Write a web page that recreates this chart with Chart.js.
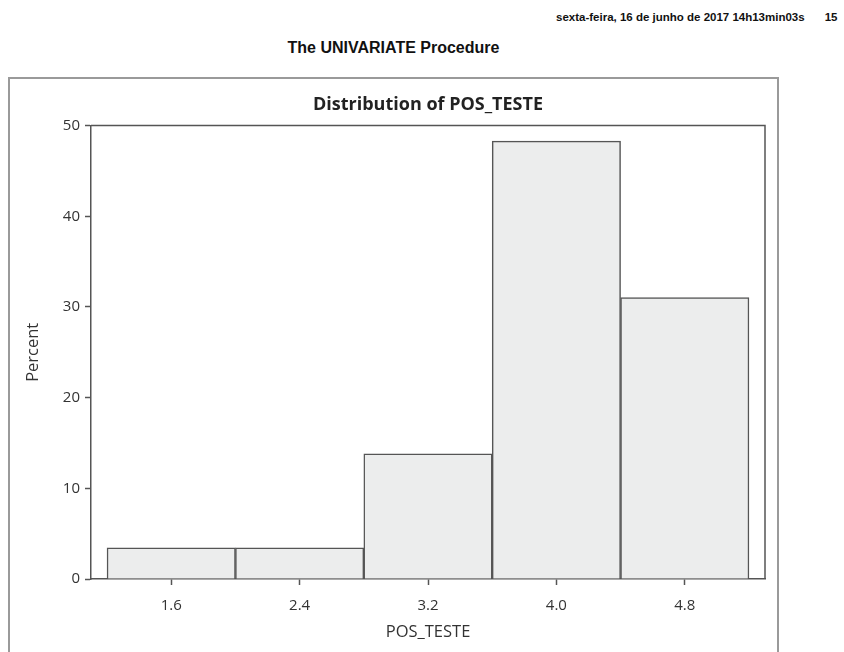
<!DOCTYPE html>
<html>
<head>
<meta charset="utf-8">
<script src="https://cdn.jsdelivr.net/npm/chart.js@4/dist/chart.umd.min.js"></script>
<style>
  html, body { margin:0; padding:0; background:#fff; }
  #wrap { position:relative; width:844px; height:652px; overflow:hidden; }
  #hdr { position:absolute; left:556px; top:11px; font:bold 11.5px "Liberation Sans Narrow","Liberation Sans",Arial,sans-serif; color:#111; white-space:nowrap; }
  #hdr span { margin-left:20px; }
  #proc { position:absolute; left:0; width:787px; top:39px; text-align:center; font:bold 16px "Liberation Sans Narrow","Liberation Sans",Arial,sans-serif; color:#111; }
  #frame { position:absolute; left:8px; top:77px; width:771px; height:600px; border:2px solid #9a9a9a; box-sizing:border-box; }
  #c { position:absolute; left:0; top:0; }
</style>
</head>
<body>
<div id="wrap">
  <div id="hdr">sexta-feira, 16 de junho de 2017 14h13min03s<span>15</span></div>
  <div id="proc">The UNIVARIATE Procedure</div>
  <div id="frame"></div>
  <canvas id="c" width="844" height="652"></canvas>
</div>
<script>
// Data
const midpoints = [1.6, 2.4, 3.2, 4.0, 4.8];
const percents = [3.45, 3.45, 13.79, 48.28, 31.03];
const xTickValues = [1.6, 2.4, 3.2, 4.0, 4.8];
const yTickValues = [0, 10, 20, 30, 40, 50];

const FONT = '"Open Sans", "Noto Sans", Arial, sans-serif';
const AXIS = '#555555';

const plotBorder = {
  id: 'plotBorder',
  afterDraw(chart) {
    const a = chart.chartArea, ctx = chart.ctx;
    ctx.save();
    ctx.strokeStyle = AXIS;
    ctx.lineWidth = 1.5;
    ctx.beginPath();
    ctx.moveTo(a.left, a.top);
    ctx.lineTo(a.right, a.top);
    ctx.lineTo(a.right, a.bottom);
    ctx.stroke();
    ctx.restore();
  }
};

new Chart(document.getElementById('c'), {
  type: 'bar',
  data: {
    datasets: [{
      data: midpoints.map((m, i) => ({ x: m, y: percents[i] })),
      backgroundColor: '#ECEDED',
      borderColor: '#555555',
      borderWidth: 1.5,
      barPercentage: 1,
      categoryPercentage: 1
    }]
  },
  options: {
    responsive: false,
    animation: false,
    devicePixelRatio: 1,
    layout: { padding: { left: 18, right: 79, top: 92, bottom: 0 } },
    plugins: {
      legend: { display: false },
      tooltip: { enabled: false },
      title: {
        display: true,
        fullSize: false,
        text: 'Distribution of POS_TESTE',
        color: '#222',
        font: { family: FONT, size: 18, weight: 'bold' },
        padding: { top: 2, bottom: 10 }
      }
    },
    scales: {
      x: {
        type: 'linear',
        offset: false,
        min: 1.1,
        max: 5.3,
        afterBuildTicks(s) { s.ticks = xTickValues.map(v => ({ value: v })); },
        afterFit(s) { s.height = 73; },
        ticks: {
          color: '#333',
          font: { family: FONT, size: 15 },
          padding: 12,
          autoSkip: false,
          maxRotation: 0,
          callback: v => Number(v).toFixed(1)
        },
        grid: { display: true, offset: false, drawOnChartArea: false, drawTicks: true, tickLength: 6, color: AXIS, tickWidth: 1.5 },
        border: { display: true, color: AXIS, width: 1.5 },
        title: { display: true, text: 'POS_TESTE', color: '#333', font: { family: FONT, size: 16.5 }, padding: { top: 0, bottom: 10 } }
      },
      y: {
        min: 0,
        max: 50,
        afterBuildTicks(s) { s.ticks = yTickValues.map(v => ({ value: v })); },
        afterFit(s) { s.width = 73; },
        ticks: {
          color: '#333',
          font: { family: FONT, size: 15 },
          padding: 5
        },
        grid: { display: true, drawOnChartArea: false, drawTicks: true, tickLength: 6, color: AXIS, tickWidth: 1.5 },
        border: { display: true, color: AXIS, width: 1.5 },
        title: { display: true, text: 'Percent', color: '#333', font: { family: FONT, size: 16.5 }, padding: { top: 5, bottom: 0 } }
      }
    }
  },
  plugins: [plotBorder]
});
</script>
</body>
</html>
